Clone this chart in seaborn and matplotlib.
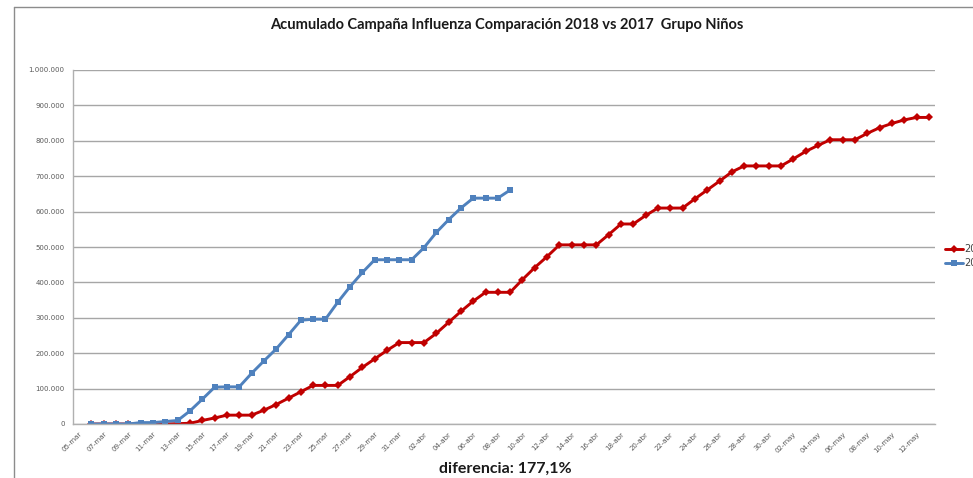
import numpy as np
import pandas as pd
import matplotlib
matplotlib.use("Agg")
import matplotlib.pyplot as plt
import matplotlib.dates as mdates
from matplotlib.ticker import FuncFormatter, MultipleLocator
from matplotlib.lines import Line2D
import seaborn as sns

# ---------------- data ----------------
TITLE = "Acumulado Campaña Influenza Comparación 2018 vs 2017  Grupo Niños"
NOTE = "diferencia: 177,1%"
SERIES = ["2017", "2018"]
COLORS = ["#C00000", "#4F81BD"]
MARKERS = ["D", "s"]
START = "2018-03-06"          # first plotted day for both series
TICK_START = "2018-03-05"
TICK_END = "2018-05-12"
MESES = {3: "mar", 4: "abr", 5: "may"}

valores_2017 = [
    0, 0, 0, 0, 0, 0, 0, 1000, 2000, 10000,
    17000, 25000, 25000, 25000, 39000, 55000, 73000, 91000, 109000, 109000,
    109000, 134000, 160000, 184000, 208000, 230000, 230000, 230000, 256000, 287000,
    318000, 347000, 372000, 372000, 372000, 408000, 442000, 473000, 506000, 506000,
    506000, 506000, 535000, 565000, 565000, 589000, 610000, 610000, 610000, 636000,
    661000, 686000, 712000, 729000, 729000, 729000, 729000, 749000, 770000, 787000,
    803000, 803000, 803000, 821000, 837000, 849000, 859000, 866000, 866000,
]
valores_2018 = [
    0, 0, 0, 0, 4000, 4000, 7000, 10000, 37000, 70000,
    104000, 105000, 105000, 143000, 178000, 212000, 252000, 293000, 296000, 296000,
    344000, 388000, 428000, 464000, 464000, 464000, 464000, 498000, 541000, 577000,
    610000, 638000, 638000, 638000, 661000,
]

# ---------------- build table ----------------
frames = []
for name, vals in zip(SERIES, [valores_2017, valores_2018]):
    frames.append(pd.DataFrame({
        "fecha": pd.date_range(START, periods=len(vals), freq="D"),
        "valor": vals,
        "serie": name,
    }))
df = pd.concat(frames, ignore_index=True)

# ---------------- style ----------------
sns.set_style("white")
plt.rcParams["font.family"] = ["DejaVu Sans"]

fig = plt.figure(figsize=(9.73, 4.78), dpi=100)
ax = fig.add_axes([73 / 973, 1 - 424 / 478, (935 - 73) / 973, (424 - 70) / 478])

sns.lineplot(
    data=df, x="fecha", y="valor", hue="serie", style="serie",
    hue_order=SERIES, style_order=SERIES,
    palette=dict(zip(SERIES, COLORS)),
    markers=dict(zip(SERIES, MARKERS)), dashes=False,
    linewidth=2.1, markersize=4, markeredgewidth=0,
    legend=False, ax=ax,
)
ax.lines[1].set_markersize(4.6)
ax.lines[0].set_markersize(3.6)

# ---------------- axes ----------------
d0 = mdates.date2num(pd.Timestamp(TICK_START))
ax.set_xlim(d0 - 0.5, d0 + 69.5)
ax.set_ylim(0, 1_000_000)

tick_dates = pd.date_range(TICK_START, TICK_END, freq="2D")
ax.set_xticks(mdates.date2num(tick_dates))
ax.set_xticklabels([f"{d.day:02d}-{MESES[d.month]}" for d in tick_dates],
                   rotation=45, ha="right", rotation_mode="anchor",
                   fontsize=5, color="#595959")
ax.yaxis.set_major_locator(MultipleLocator(100_000))
ax.yaxis.set_major_formatter(FuncFormatter(lambda v, p: f"{int(v):,}".replace(",", ".")))
ax.tick_params(axis="y", length=0, pad=6, labelsize=5, labelcolor="#595959")
ax.tick_params(axis="x", length=0, pad=5)
ax.set_xlabel("")
ax.set_ylabel("")

ax.yaxis.grid(True, color="#a6a6a6", linewidth=1.0)
ax.xaxis.grid(False)
ax.set_axisbelow(True)
for s in ["top", "right"]:
    ax.spines[s].set_visible(False)
for s in ["left", "bottom"]:
    ax.spines[s].set_color("#b0b0b0")
    ax.spines[s].set_linewidth(1.0)

# ---------------- texts ----------------
fig.text(507 / 973, 1 - 25 / 478, TITLE, ha="center", va="center",
         fontsize=10.5, fontweight="bold", family=["Lato", "DejaVu Sans"], color="#1a1a1a")
fig.text(505 / 973, 1 - 469 / 478, NOTE, ha="center", va="center",
         fontsize=11.5, fontweight="bold", family=["Lato", "DejaVu Sans"], color="#1a1a1a")

# legend (partly cut by the figure edge, as in the reference)
fig.legend(ax.lines[:2], SERIES, loc="upper left",
           bbox_to_anchor=(945 / 973, 1 - 244 / 478),
           frameon=False, fontsize=7, handlelength=1.85, handletextpad=0.15,
           borderpad=0, borderaxespad=0, labelspacing=0.45, labelcolor="#404040")

# outer chart border (left and top)
fig.add_artist(Line2D([14 / 973, 14 / 973], [0, 1 - 7 / 478],
                      transform=fig.transFigure, color="#8c8c8c", lw=1))
fig.add_artist(Line2D([14 / 973, 1], [1 - 7 / 478, 1 - 7 / 478],
                      transform=fig.transFigure, color="#8c8c8c", lw=1))

fig.savefig("out.png", dpi=100)
